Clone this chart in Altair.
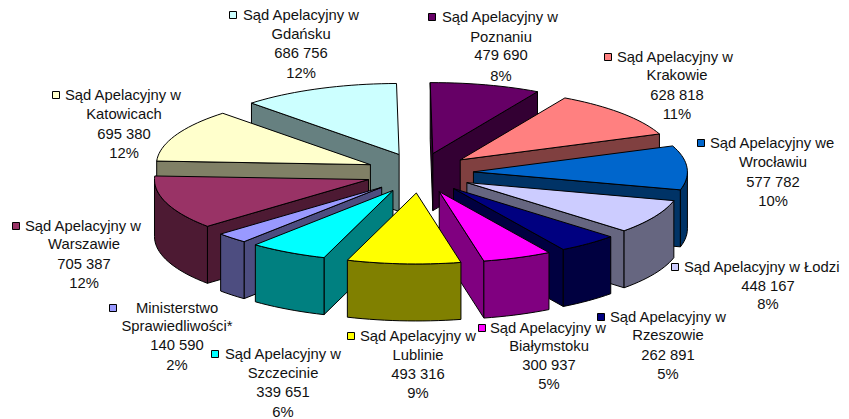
import math
import altair as alt
import pandas as pd

# --- chart values -----------------------------------------------------------
names = ["Poznań", "Kraków", "Wrocław", "Łódź", "Rzeszów", "Białystok", "Lublin",
         "Szczecin", "Ministerstwo", "Warszawa", "Katowice", "Gdańsk"]
values = [479690, 628818, 577782, 448167, 262891, 300937, 493316,
          339651, 140590, 705387, 695380, 686756]
first_lines = ["Sąd Apelacyjny w", "Sąd Apelacyjny w", "Sąd Apelacyjny we", "Sąd Apelacyjny w Łodzi",
               "Sąd Apelacyjny w", "Sąd Apelacyjny w", "Sąd Apelacyjny w", "Sąd Apelacyjny w",
               "Ministerstwo", "Sąd Apelacyjny w", "Sąd Apelacyjny w", "Sąd Apelacyjny w"]
second_lines = ["Poznaniu", "Krakowie", "Wrocławiu", "", "Rzeszowie", "Białymstoku", "Lublinie",
                "Szczecinie", "Sprawiedliwości*", "Warszawie", "Katowicach", "Gdańsku"]
value_labels = ["479 690", "628 818", "577 782", "448 167", "262 891", "300 937", "493 316",
                "339 651", "140 590", "705 387", "695 380", "686 756"]
pct_labels = ["8%", "11%", "10%", "8%", "5%", "5%", "9%", "6%", "2%", "12%", "12%", "12%"]
top_colors = ["#660066", "#FF8080", "#0066CC", "#CCCCFF", "#000080", "#FF00FF", "#FFFF00",
              "#00FFFF", "#9999FF", "#993366", "#FFFFCC", "#CCFFFF"]
side_colors = ["#330033", "#804040", "#003366", "#666680", "#000040", "#800080", "#808000",
               "#008080", "#4D4D80", "#4D1A33", "#808066", "#668080"]

# --- layout -----------------------------------------------------------------
CX, CY = 419.5, 173        # pie centre
RX, RY = 214, 71           # ellipse radii
EX, EY = 54, 20            # explosion
DEPTH = 57
ROT = -0.7
TEXT_DY = 1
draw_order = [11, 0, 10, 1, 9, 2, 8, 3, 7, 4, 5, 6]
swatch_x = [432, 608, 701, 675, 601, 482, 351, 215, 113, 16, 56, 233]
text_left = [442, 617, 710, 684, 610, 490, 360, 225, 136, 25, 65, 243]
text_center = [501, 677, 773, 768, 668, 549, 418, 283, 177, 84, 124, 301]
line_y = [[17, 37, 55, 76], [57, 75, 95, 114], [143, 162, 182, 201], [267, 286, 304],
          [317, 335, 355, 374], [328, 346, 365, 384], [336, 355, 374, 393], [354, 373, 392, 412],
          [308, 326, 345, 365], [226, 244, 264, 283], [95, 114, 134, 153], [15, 34, 53, 73]]

total = sum(values)
rows = []
face = [0]


def add(points, fill):
    pts = list(points) + [points[0]]
    for i, (x, y) in enumerate(pts):
        rows.append({"x": x, "y": y, "face": f"f{face[0]:03d}", "ord": i, "fill": fill})
    face[0] += 1


cum = [0]
for v in values:
    cum.append(cum[-1] + v)

for s in draw_order:
    a = cum[s] / total * 360 + ROT
    b = cum[s + 1] / total * 360 + ROT
    m = math.radians((a + b) / 2)
    ax = CX + EX * math.sin(m)
    ay = CY - EY * math.cos(m)

    def rim(deg):
        t = math.radians(deg)
        return (ax + RX * math.sin(t), ay - RY * math.cos(t))

    # radial walls, only when they face the viewer
    for deg, vis in ((a, math.sin(math.radians(a)) < 0), (b, math.sin(math.radians(b)) > 0)):
        if vis:
            ox, oy = rim(deg)
            add([(ax, ay), (ox, oy), (ox, oy + DEPTH), (ax, ay + DEPTH)], side_colors[s])
    # outer wall (front half)
    lo, hi = max(a, 90), min(b, 270)
    if hi > lo:
        n = max(2, int((hi - lo) / 2))
        arc = [rim(lo + (hi - lo) * i / n) for i in range(n + 1)]
        add(arc + [(x, y + DEPTH) for x, y in reversed(arc)], side_colors[s])
    # top face
    n = max(2, int((b - a) / 2))
    add([(ax, ay)] + [rim(a + (b - a) * i / n) for i in range(n + 1)], top_colors[s])

df = pd.DataFrame(rows)

xs = alt.Scale(domain=[8, 841], range=[0, 833], nice=False, zero=False)
ys = alt.Scale(domain=[8, 419], range=[0, 411], nice=False, zero=False)
X = alt.X("x:Q", scale=xs, axis=None)
Y = alt.Y("y:Q", scale=ys, axis=None)

pie = alt.Chart(df).mark_line(stroke="black", strokeWidth=1, strokeJoin="miter").encode(
    x=X, y=Y,
    fill=alt.Fill("fill:N", scale=None),
    detail="face:N",
    order=alt.Order("ord:Q"),
)

swatches = pd.DataFrame({"x": swatch_x, "y": [l[0] for l in line_y], "fill": top_colors})
sw = alt.Chart(swatches).mark_square(size=49, stroke="black", strokeWidth=1, opacity=1).encode(
    x=X, y=Y, fill=alt.Fill("fill:N", scale=None))

FONT = dict(font="Liberation Sans", fontSize=14.8, color="#111111", baseline="middle")

firsts = pd.DataFrame({"x": text_left, "y": [l[0] + TEXT_DY for l in line_y], "t": first_lines})
t1 = alt.Chart(firsts).mark_text(align="left", **FONT).encode(x=X, y=Y, text="t:N")

rest = []
for i in range(12):
    lines = [second_lines[i], value_labels[i], pct_labels[i]]
    if not second_lines[i]:
        lines = lines[1:]
    for j, t in enumerate(lines):
        rest.append({"x": text_center[i], "y": line_y[i][j + 1] + TEXT_DY, "t": t})
t2 = alt.Chart(pd.DataFrame(rest)).mark_text(align="center", **FONT).encode(x=X, y=Y, text="t:N")

chart = (pie + sw + t1 + t2).properties(
    width=833, height=411, padding=0, autosize=alt.AutoSizeParams(type="none"), background="white",
).configure_view(stroke=None)

chart.save("out.html", embed_options={"renderer": "svg", "actions": False})
